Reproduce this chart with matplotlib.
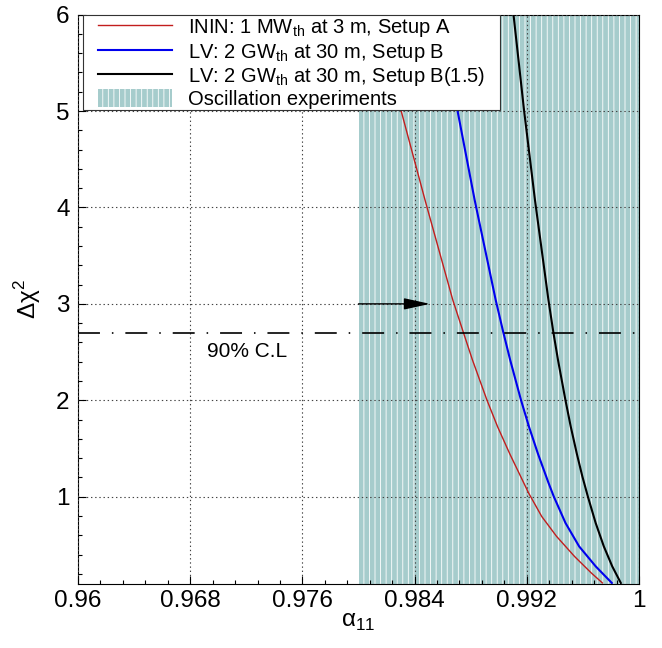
import numpy as np
import matplotlib
matplotlib.use("Agg")
import matplotlib.pyplot as plt
from matplotlib.lines import Line2D
from matplotlib.patches import Rectangle

plt.rcParams['font.family'] = ['Liberation Sans', 'DejaVu Sans']
plt.rcParams['mathtext.fontset'] = 'custom'
plt.rcParams['mathtext.rm'] = 'Liberation Sans'
plt.rcParams['hatch.linewidth'] = 0.6
plt.rcParams['lines.scale_dashes'] = False

# curves (alpha_11, delta chi^2)
red_alpha = [0.9813, 0.98296, 0.98474, 0.98672, 0.98747, 0.98812, 0.98915, 0.98991, 0.99079,
             0.99213, 0.99306, 0.99412, 0.99540, 0.99660, 0.99739]
red_chi2 = [6.0, 5.045, 4.078, 3.041, 2.707, 2.420, 2.005, 1.728, 1.443,
            1.038, 0.796, 0.589, 0.381, 0.209, 0.106]

blue_alpha = [0.98581, 0.98705, 0.98828, 0.98978, 0.99032, 0.99081, 0.99158, 0.99215, 0.99280,
              0.99355, 0.99392, 0.99476, 0.99573, 0.99691, 0.99806]
blue_chi2 = [6.0, 5.010, 4.078, 3.041, 2.707, 2.420, 2.005, 1.728, 1.443,
             1.142, 1.003, 0.727, 0.485, 0.278, 0.106]

black_alpha = [0.99105, 0.99180, 0.99258, 0.99354, 0.99389, 0.99422, 0.99475, 0.99513, 0.99557,
               0.99596, 0.99635, 0.99691, 0.99749, 0.99809, 0.99870]
black_chi2 = [6.0, 5.010, 4.078, 3.041, 2.707, 2.420, 2.005, 1.728, 1.443,
              1.210, 1.003, 0.727, 0.485, 0.278, 0.106]

labels = [r'ININ: 1 MW$_{\mathrm{th}}$ at 3 m, Setup A',
          r'LV: 2 GW$_{\mathrm{th}}$ at 30 m, Setup B',
          r'LV: 2 GW$_{\mathrm{th}}$ at 30 m, Setup B(1.5)',
          'Oscillation experiments']

osc_range = [0.98, 1.0]
cl90 = 2.7
arrow_y = 3.0
arrow_x = [0.98, 0.9851]

x_ticks = [0.96, 0.968, 0.976, 0.984, 0.992, 1.0]
x_ticklabels = ['0.96', '0.968', '0.976', '0.984', '0.992', '1']
y_ticks = [1, 2, 3, 4, 5, 6]

colors = ['#c21d1d', '#0000ee', 'black']
widths = [1.0, 1.5, 1.5]
fill_color = '#a6cccc'

fig = plt.figure(figsize=(6.62, 6.48), dpi=100)
ax = fig.add_axes([0.1178, 0.0995, 0.8475, 0.878])

ax.axvspan(osc_range[0], osc_range[1], facecolor=fill_color, edgecolor='white',
           hatch='|||', linewidth=0, zorder=0)

ax.set_xlim(0.96, 1.0)
ax.set_ylim(0.1, 6)
ax.set_xticks(x_ticks)
ax.set_xticklabels(x_ticklabels)
ax.set_yticks(y_ticks)
ax.set_xticks(np.arange(0.96, 1.0001, 0.0016), minor=True)
ax.set_yticks(np.arange(0.2, 6.0001, 0.2), minor=True)
ax.tick_params(which='both', direction='in', top=False, right=False, labelsize=17.5)
ax.tick_params(which='major', length=6, width=0.8)
ax.tick_params(which='minor', length=3, width=0.8)
ax.tick_params(axis='x', pad=5)
ax.tick_params(axis='y', pad=6)
ax.grid(True, which='major', color='#444444', linestyle=(0, (1, 2)), linewidth=0.8, zorder=1)
ax.set_axisbelow(False)
for s in ax.spines.values():
    s.set_linewidth(0.8)

ax.plot(red_alpha, red_chi2, color=colors[0], lw=widths[0], zorder=3)
ax.plot(blue_alpha, blue_chi2, color=colors[1], lw=widths[1], zorder=3)
ax.plot(black_alpha, black_chi2, color=colors[2], lw=widths[2], zorder=3)

ax.axhline(cl90, color='black', lw=1.2, dashes=(15.8, 8.6, 1.1, 8.6), zorder=3)
ax.text(0.9692, 2.45, '90% C.L', fontsize=15, va='baseline', zorder=4)
ax.annotate('', xy=(arrow_x[1], arrow_y), xytext=(arrow_x[0], arrow_y),
            arrowprops=dict(arrowstyle='-|>,head_length=1.6,head_width=0.35',
                            color='black', lw=1.0, shrinkA=0, shrinkB=0), zorder=4)

ax.set_xlabel(r'α$_{11}$', fontsize=17.5)
ax.set_ylabel(r'Δχ$^{2}$', fontsize=17.5)
ax.xaxis.set_label_coords(0.499, -0.048)
ax.yaxis.set_label_coords(-0.062, 0.5)

# legend box drawn by hand to match the layout
tr = ax.transAxes
ax.add_patch(Rectangle((0.0089, 0.832), 0.7433, 0.168, transform=tr, facecolor='white',
                       edgecolor='#333333', linewidth=0.8, zorder=5))
row_line_y = [0.9817, 0.9385, 0.8954]
row_text_y = [0.967, 0.9244, 0.8822, 0.8418]
for i in range(3):
    ax.add_line(Line2D([0.0357, 0.1676], [row_line_y[i], row_line_y[i]], transform=tr,
                       color=colors[i], lw=widths[i], zorder=6))
ax.add_patch(Rectangle((0.0357, 0.8374), 0.1319, 0.0316, transform=tr, facecolor=fill_color,
                       edgecolor='white', hatch='|||', linewidth=0, zorder=6))
for i in range(4):
    ax.text(0.1961, row_text_y[i], labels[i], transform=tr, fontsize=14.5,
            va='baseline', ha='left', zorder=6)

fig.savefig('out.png', dpi=100)
